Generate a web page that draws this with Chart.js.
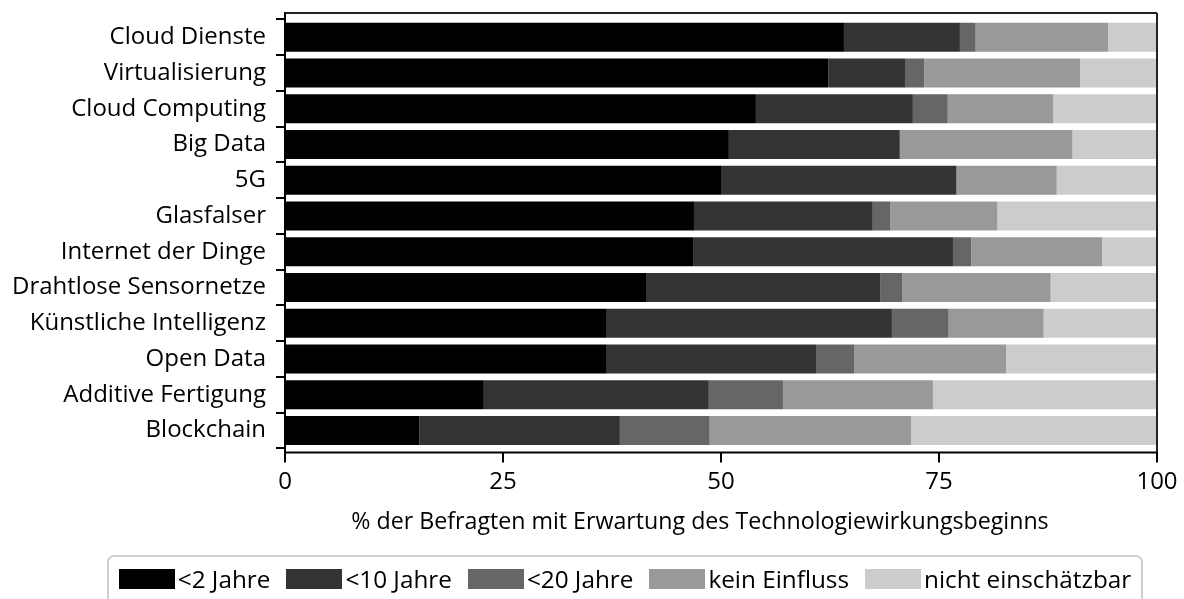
<!DOCTYPE html>
<html lang="de">
<head>
<meta charset="utf-8">
<title>Technologiewirkungsbeginn</title>
<script src="https://cdn.jsdelivr.net/npm/chart.js"></script>
<style>
    html, body { margin: 0; padding: 0; background: #fff; }
    #wrap { position: relative; width: 1184px; height: 599px; overflow: hidden; }
    #legend {
        position: absolute; left: 107px; top: 555px; width: 1032px; height: 60px;
        border: 2px solid #cfcfcf; border-radius: 7px;
        display: flex; justify-content: center; align-items: flex-start;
        font-family: "Open Sans", sans-serif; font-size: 24.3px; color: #000;
    }
    #legend .item { display: flex; align-items: center; margin: 0 8px; padding-top: 5px; }
    #legend .swatch { width: 56px; height: 20px; margin-right: 3px; }
</style>
</head>
<body>
<div id="wrap">
    <canvas id="chart" width="1184" height="599"></canvas>
    <div id="legend"></div>
</div>
<script>
// Kategorien (von oben nach unten)
const technologien = ['Cloud Dienste', 'Virtualisierung', 'Cloud Computing', 'Big Data', '5G', 'Glasfalser',
    'Internet der Dinge', 'Drahtlose Sensornetze', 'Künstliche Intelligenz', 'Open Data',
    'Additive Fertigung', 'Blockchain'];

// Anteile in % je Antwort
const unter2Jahre = [64.1, 62.3, 54.0, 50.9, 50.0, 46.9, 46.8, 41.4, 36.9, 36.9, 22.8, 15.4];
const unter10Jahre = [13.3, 8.8, 18.0, 19.6, 27.0, 20.5, 29.8, 26.9, 32.7, 24.0, 25.8, 23.0];
const unter20Jahre = [1.8, 2.2, 4.0, 0, 0, 2.0, 2.1, 2.5, 6.5, 4.4, 8.5, 10.3];
const keinEinfluss = [15.2, 17.9, 12.1, 19.8, 11.5, 12.3, 15.0, 17.0, 10.9, 17.4, 17.2, 23.1];
const nichtEinschaetzbar = [5.6, 8.8, 11.9, 9.7, 11.5, 18.3, 6.3, 12.2, 13.0, 17.3, 25.7, 28.2];

const serienNamen = ['<2 Jahre', '<10 Jahre', '<20 Jahre', 'kein Einfluss', 'nicht einschätzbar'];
const serienFarben = ['#000000', '#333333', '#666666', '#999999', '#cccccc'];
const xTicks = [0, 25, 50, 75, 100];
const xTitel = '% der Befragten mit Erwartung des Technologiewirkungsbeginns';

const FONT = 'Open Sans';

// Rahmen um die Zeichenfläche, Striche an der x-Achse und Achsentitel
const framePlugin = {
    id: 'frame',
    afterDraw(chart) {
        const { ctx, chartArea } = chart;
        const x = chart.scales.x;
        const top = chartArea.top - 6.4;
        const bottom = chartArea.bottom + 4;
        const left = chartArea.left;
        const right = chartArea.right;
        ctx.save();
        ctx.lineWidth = 2;
        ctx.strokeStyle = '#222';
        ctx.beginPath();
        ctx.moveTo(left, top); ctx.lineTo(right, top);
        ctx.moveTo(right, top); ctx.lineTo(right, bottom);
        ctx.stroke();
        ctx.strokeStyle = '#000';
        ctx.beginPath();
        ctx.moveTo(left, top - 1); ctx.lineTo(left, bottom);
        ctx.lineTo(right + 1, bottom);
        ctx.stroke();
        xTicks.forEach(v => {
            const px = x.getPixelForValue(v);
            ctx.beginPath();
            ctx.moveTo(px, bottom);
            ctx.lineTo(px, bottom + 10);
            ctx.stroke();
        });
        // Achsentitel (im Original etwas links von der Mitte der Zeichenfläche)
        ctx.fillStyle = '#000';
        ctx.font = `23.2px "${FONT}"`;
        ctx.textAlign = 'center';
        ctx.textBaseline = 'middle';
        ctx.fillText(xTitel, (left + right) / 2 - 21, 522);
        ctx.restore();
    }
};

const datenReihen = [unter2Jahre, unter10Jahre, unter20Jahre, keinEinfluss, nichtEinschaetzbar];

new Chart(document.getElementById('chart'), {
    type: 'bar',
    data: {
        labels: technologien,
        datasets: datenReihen.map((d, i) => ({
            label: serienNamen[i],
            data: d,
            backgroundColor: serienFarben[i],
            borderWidth: 0,
            barPercentage: 0.81,
            categoryPercentage: 1.0
        }))
    },
    options: {
        indexAxis: 'y',
        responsive: false,
        animation: false,
        layout: { padding: { left: 0, top: 19.4, right: 27, bottom: 0 } },
        plugins: {
            legend: { display: false },
            tooltip: { enabled: false }
        },
        scales: {
            x: {
                stacked: true,
                min: 0,
                max: 100,
                afterBuildTicks: s => { s.ticks = xTicks.map(v => ({ value: v })); },
                afterFit: s => {
                    s.height = 150.6;
                    s.paddingLeft = 0;
                    s.paddingRight = 0;
                },
                grid: { display: false, drawTicks: false },
                border: { display: false },
                ticks: { padding: 19, color: '#000', font: { family: FONT, size: 24 } },
                title: { display: false }
            },
            y: {
                stacked: true,
                afterFit: s => {
                    s.width = 285;
                    s.paddingTop = 0;
                    s.paddingBottom = 0;
                },
                grid: { display: true, drawOnChartArea: false, drawTicks: true, tickLength: 9, color: '#000', lineWidth: 2 },
                border: { display: false },
                ticks: { padding: 10, color: '#000', font: { family: FONT, size: 24 }, autoSkip: false }
            }
        }
    },
    plugins: [framePlugin]
});

// Legende aus den Serien aufbauen
const legendEl = document.getElementById('legend');
legendEl.innerHTML = serienNamen.map((n, i) => `
    <div class="item"><span class="swatch" style="background:${serienFarben[i]}"></span>${n.replace('<', '&lt;')}</div>`).join('');
</script>
</body>
</html>
